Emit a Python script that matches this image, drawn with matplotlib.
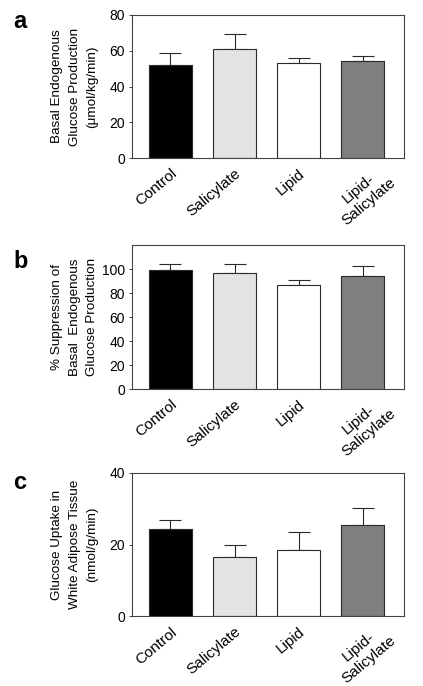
import matplotlib
matplotlib.use("Agg")
import matplotlib.pyplot as plt
import matplotlib.transforms as mtransforms

plt.rcParams['font.family'] = ['Liberation Sans', 'DejaVu Sans']

categories = ["Control", "Salicylate", "Lipid", "Lipid-\nSalicylate"]
bar_colors = ["#000000", "#e3e3e3", "#ffffff", "#7f7f7f"]

# Panel a: basal endogenous glucose production
egp_mean = [52.0, 61.0, 53.0, 54.3]
egp_err = [6.6, 8.5, 2.7, 2.7]
# Panel b: % suppression of basal EGP
supp_mean = [99.3, 97.0, 87.0, 94.4]
supp_err = [5.4, 7.4, 3.9, 7.9]
# Panel c: glucose uptake in white adipose tissue
wat_mean = [24.3, 16.6, 18.6, 25.5]
wat_err = [2.5, 3.4, 4.8, 4.6]

panels = [
    dict(letter="a", mean=egp_mean, err=egp_err, ylim=(0, 80), ticks=[0, 20, 40, 60, 80],
         ylabel="Basal Endogenous\nGlucose Production\n(\u03bcmol/kg/min)",
         rect=[132/423, 1-158/686, 272/423, 143/686], lab_y=28),
    dict(letter="b", mean=supp_mean, err=supp_err, ylim=(0, 120), ticks=[0, 20, 40, 60, 80, 100],
         ylabel="% Suppression of\nBasal  Endogenous\nGlucose Production",
         rect=[132/423, 1-389/686, 272/423, 143.7/686], lab_y=268),
    dict(letter="c", mean=wat_mean, err=wat_err, ylim=(0, 40), ticks=[0, 20, 40],
         ylabel="Glucose Uptake in\nWhite Adipose Tissue\n(nmol/g/min)",
         rect=[132/423, 1-616.3/686, 272/423, 143.6/686], lab_y=489),
]

fig = plt.figure(figsize=(4.23, 6.86), dpi=100)
x = list(range(len(categories)))
for p in panels:
    ax = fig.add_axes(p["rect"])
    ax.bar(x, p["mean"], width=0.67, color=bar_colors, edgecolor="#2a2a2a", linewidth=0.8, zorder=2)
    ax.errorbar(x, p["mean"], yerr=[[0]*len(x), p["err"]], fmt="none", ecolor="#2a2a2a",
                elinewidth=0.8, capsize=8, capthick=0.8, zorder=1)
    ax.set_xlim(-0.6, 3.64)
    ax.set_ylim(*p["ylim"])
    ax.set_yticks(p["ticks"])
    ax.tick_params(axis="y", direction="out", length=2.5, width=0.7, color="#444444",
                   labelsize=10, pad=2.5)
    ax.set_xticks(x)
    ax.set_xticklabels(categories, rotation=40, ha="right", va="top",
                       rotation_mode="anchor", fontsize=11, multialignment="center",
                       linespacing=1.25)
    ax.tick_params(axis="x", length=0, pad=6)
    for i, lbl in enumerate(ax.get_xticklabels()):
        dx = 16 if i == 3 else 0
        dy = 4 if i == 3 else 0
        lbl.set_transform(lbl.get_transform() + mtransforms.ScaledTranslation(dx/100, dy/100, fig.dpi_scale_trans))
    for s in ax.spines.values():
        s.set_color("#444444")
        s.set_linewidth(0.8)
    ax.set_ylabel(p["ylabel"], fontsize=9.7, linespacing=1.6)
    ax.yaxis.set_label_coords(-0.125, 0.5)
    fig.text(13/423, 1 - p["lab_y"]/686, p["letter"], fontsize=17, fontweight="bold",
             ha="left", va="baseline")

fig.savefig("out.png", dpi=100)
